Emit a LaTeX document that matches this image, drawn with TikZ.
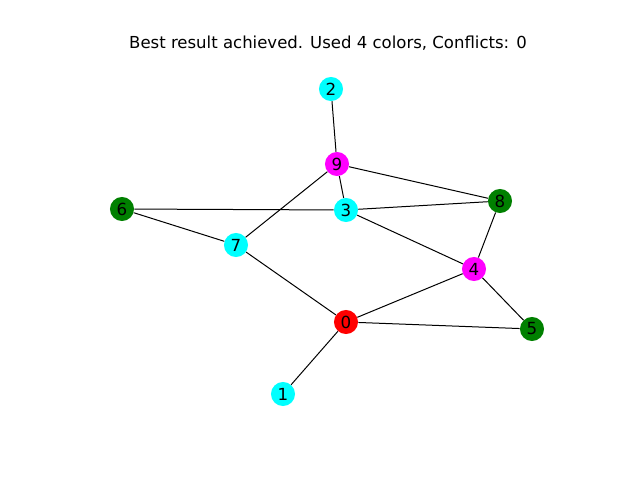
\documentclass[tikz,border=0pt]{standalone}
\usepackage{fontspec}
\setmainfont{DejaVu Sans}
\definecolor{ncyan}{RGB}{0,255,255}
\definecolor{nmag}{RGB}{255,0,255}
\definecolor{ngreen}{RGB}{0,128,0}
\definecolor{nred}{RGB}{255,0,0}
\begin{document}
\begin{tikzpicture}[x=0.72pt,y=-0.72pt,
  vert/.style={circle,minimum size=17.3pt,inner sep=0pt,font=\fontsize{12}{14}\selectfont},
  edge/.style={draw=black,line width=0.72pt}]
\useasboundingbox (0,0) rectangle (640,480);
\node[font=\fontsize{11.9}{14}\selectfont] (title) at (328,43) {Best result achieved. Used 4 colors, Conflicts: 0};
\node[vert,fill=nred] (n0) at (346,322) {0};
\node[vert,fill=ncyan] (n1) at (283,394) {1};
\node[vert,fill=ncyan] (n2) at (331,89) {2};
\node[vert,fill=ncyan] (n3) at (346,210) {3};
\node[vert,fill=nmag] (n4) at (474,269) {4};
\node[vert,fill=ngreen] (n5) at (532,329) {5};
\node[vert,fill=ngreen] (n6) at (122,209) {6};
\node[vert,fill=ncyan] (n7) at (236,245) {7};
\node[vert,fill=ngreen] (n8) at (500,201) {8};
\node[vert,fill=nmag] (n9) at (337,164) {9};
\foreach \a/\b in {2/9,9/3,9/8,9/7,6/3,3/8,6/7,3/4,8/4,7/0,0/4,0/5,4/5,0/1}
  \draw[edge] (n\a) -- (n\b);
\end{tikzpicture}
\end{document}
